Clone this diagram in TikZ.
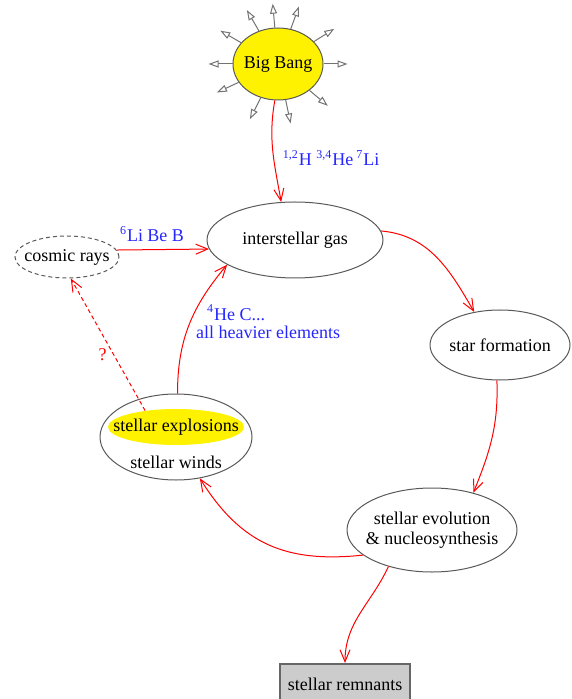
\documentclass[tikz,border=0pt]{standalone}
\usepackage{fontspec}
\setmainfont{Liberation Serif}
\usetikzlibrary{shapes.geometric,arrows.meta}
\tikzset{
  bubble/.style={ellipse, draw=black!65, line width=0.5pt, inner xsep=-10pt, inner ysep=-2pt, align=center},
  flow/.style={draw=red, line width=0.5pt, -{Straight Barb[length=6pt,width=5pt]}},
  ray/.style={draw=black!55, line width=0.5pt, -{Triangle[open,length=5pt,width=3.5pt,fill=white]}},
  tag/.style={text=blue!85!white},
}

\begin{document}
\begin{tikzpicture}[x=0.5pt, y=-0.5pt, font=\fontsize{9}{10}\selectfont]
  \useasboundingbox (0,0) rectangle (571,699);
  % the cycle of matter: one ellipse per stage
  \node[bubble, fill=yellow, minimum width=45pt, minimum height=36pt] (bang) at (278,64) {Big Bang};
  \node[bubble, minimum width=88pt, minimum height=38pt] (gas) at (295,240) {interstellar gas};
  \node[bubble, dash pattern=on 2pt off 1.5pt, minimum width=52pt, minimum height=21pt] (cosmic) at (67,257) {cosmic rays};
  \node[bubble, minimum width=70pt, minimum height=35pt] (formation) at (500,345) {star formation};
  \node[bubble, minimum width=85pt, minimum height=42pt] (evolution) at (432,530) {stellar evolution\\\& nucleosynthesis};
  \node[bubble, minimum width=76pt, minimum height=43pt] (death) at (176,437) {};
  \node[ellipse, fill=yellow, inner xsep=-20pt, inner ysep=0pt, minimum width=68pt, minimum height=18pt] (explosions) at (176,427) {stellar explosions};
  \node (winds) at (176,462) {stellar winds};
  \node[draw=black!60, fill=black!20, line width=1pt, minimum width=65pt, minimum height=20pt, inner sep=0pt] (remnants) at (345,684) {stellar remnants};

  % rays round the Big Bang
  \foreach \a in {0,32,70,95,120,150,180,205,243,282,320}
    \draw[ray] (bang.\a) -- ++(\a:12pt);

  % flows of matter
  \draw[flow] (bang.265) to[out=-100,in=100] (gas.110);
  \node[tag] (light) at (331,158) {\textsuperscript{1,2}H \textsuperscript{3,4}He\,\textsuperscript{7}Li};
  \draw[flow] (cosmic.8) -- (gas.186);
  \node[tag] (spall) at (152,234) {\textsuperscript{6}Li Be B};
  \draw[flow] (gas.6) to[out=-5,in=120] (formation.128);
  \draw[flow] (formation.265) to[out=-88,in=68] (evolution.42);
  \draw[flow] (evolution.200) to[out=186,in=-58, looseness=1.1] (death.-60);
  \draw[flow] (evolution.220) to[out=-115,in=90] (remnants.north);
  \draw[flow] (death.88) to[out=90,in=-130] (gas.200);
  \node[tag, anchor=west] (helium) at (200,313) {\textsuperscript{4}He C...};
  \node[tag, anchor=west] (heavy) at (189,332) {all heavier elements};
  \draw[flow, dash pattern=on 2pt off 1.5pt] (explosions.152) -- (cosmic.-80)
    node[pos=0.42, left, text=red] (unknown) {?};
\end{tikzpicture}
\end{document}
